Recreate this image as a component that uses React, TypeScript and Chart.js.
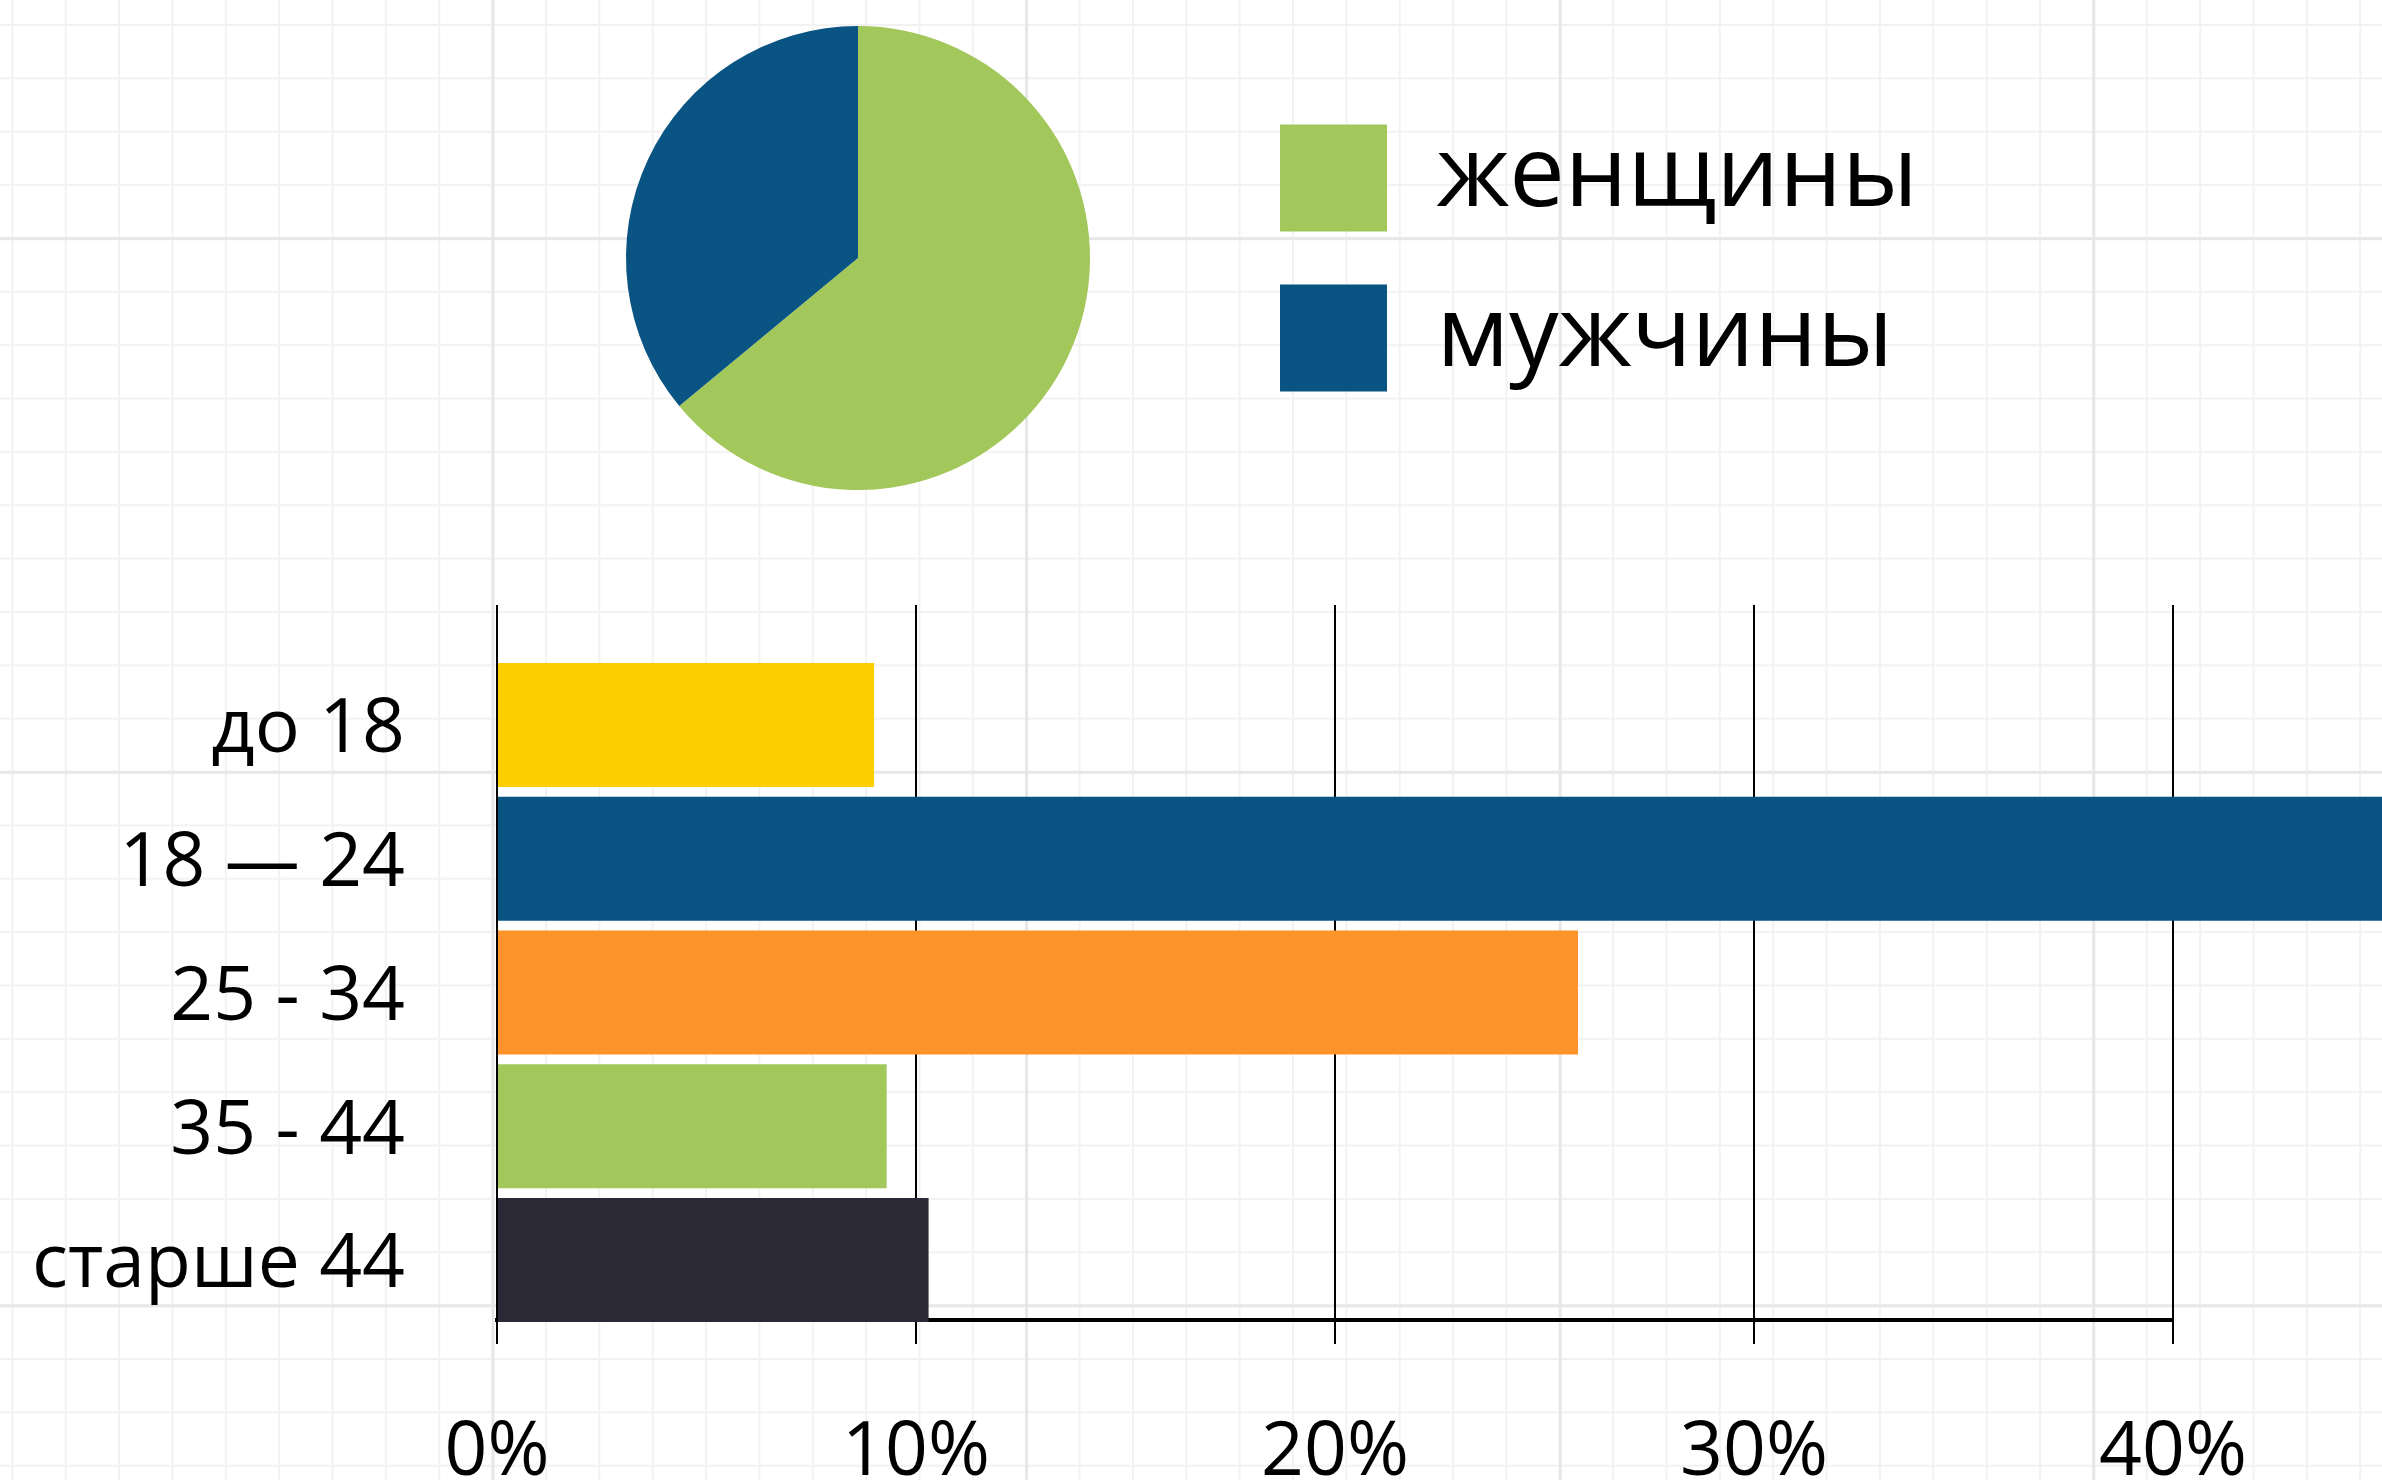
import React, { useEffect, useRef } from 'react';
import { Chart, registerables } from 'chart.js';

Chart.register(...registerables);

const FONT = '"Open Sans", sans-serif';

// Pie: gender split
const genderLabels = ['женщины', 'мужчины'];
const genderValues = [64, 36];
const genderColors = ['#A2C75A', '#095483'];

// Bars: age groups (%)
const ageLabels = ['до 18', '18 — 24', '25 - 34', '35 - 44', 'старше 44'];
const ageValues = [9.0, 45.6, 25.8, 9.3, 10.3];
const ageColors = ['#FDCE00', '#095483', '#FE922B', '#A2C75A', '#2C2937'];

// Percent axis ticks
const xTickValues = [0, 10, 20, 30, 40];
const xTickSuffix = '%';

const W = 2382;
const H = 1480;

export default function App() {
  const pieRef = useRef<HTMLCanvasElement>(null);
  const barRef = useRef<HTMLCanvasElement>(null);

  useEffect(() => {
    const legendFontSize = 99;
    const legendPad = 53;
    const legendBox = 107;
    const meas = document.createElement('canvas').getContext('2d')!;
    meas.font = `${legendFontSize}px ${FONT}`;
    const textW = Math.max(...genderLabels.map((l) => meas.measureText(l).width));
    const legendW = legendPad + legendBox + legendFontSize / 2 + textW + 10;
    const pieLeft = 489;
    const pieAreaRight = 1227;
    const pieRightPad = Math.max(0, W - pieAreaRight - legendW);

    const pie = new Chart(pieRef.current!, {
      type: 'pie',
      data: {
        labels: genderLabels,
        datasets: [
          {
            data: genderValues,
            backgroundColor: genderColors,
            borderWidth: 0,
          },
        ],
      },
      options: {
        responsive: false,
        animation: false,
        layout: { padding: { left: pieLeft, right: pieRightPad, top: 26, bottom: 30 } },
        plugins: {
          legend: {
            position: 'right',
            labels: {
              boxWidth: legendBox,
              boxHeight: legendBox,
              padding: legendPad,
              color: '#000',
              font: { family: FONT, size: legendFontSize },
            },
          },
          tooltip: { enabled: false },
        },
      },
    });

    const bar = new Chart(barRef.current!, {
      type: 'bar',
      data: {
        datasets: [
          {
            data: ageValues.map((v, i) => ({ x: v, y: i })),
            backgroundColor: ageColors,
            borderWidth: 0,
            barPercentage: 0.927,
            categoryPercentage: 1,
            clip: false,
          } as any,
        ],
      },
      options: {
        indexAxis: 'y',
        responsive: false,
        animation: false,
        layout: { padding: { top: 65, right: 209, left: 0, bottom: 0 } },
        scales: {
          x: {
            type: 'linear',
            position: 'bottom',
            min: 0,
            max: 40,
            offset: false,
            afterBuildTicks: (s: any) => {
              s.ticks = xTickValues.map((v) => ({ value: v }));
            },
            afterFit: (s: any) => {
              s.height = 160;
            },
            grid: { color: '#000', lineWidth: 2, tickLength: 24, drawTicks: true },
            border: { display: true, color: '#000', width: 4 },
            ticks: {
              color: '#000',
              padding: 72,
              maxRotation: 0,
              font: { family: FONT, size: 75, lineHeight: 1 },
              callback: (v: any) => v + xTickSuffix,
            },
          },
          y: {
            type: 'linear',
            reverse: true,
            offset: false,
            min: -0.897,
            max: 4.449,
            afterBuildTicks: (s: any) => {
              s.ticks = ageLabels.map((_, i) => ({ value: i }));
            },
            afterFit: (s: any) => {
              s.width = 497;
            },
            grid: {
              display: true,
              offset: false,
              drawOnChartArea: false,
              drawTicks: true,
              tickLength: 92,
              color: 'rgba(0,0,0,0)',
              tickColor: 'rgba(0,0,0,0)',
            },
            border: { display: false },
            ticks: {
              color: '#000',
              padding: 0,
              labelOffset: 6,
              autoSkip: false,
              font: { family: FONT, size: 75 },
              callback: (v: any) => ageLabels[v as number],
            },
          },
        },
        plugins: {
          legend: { display: false },
          tooltip: { enabled: false },
        },
      },
    });

    return () => {
      pie.destroy();
      bar.destroy();
    };
  }, []);

  const light = '#f2f2f2';
  const dark = '#e7e7e7';
  const bg = {
    backgroundColor: '#ffffff',
    backgroundImage: [
      `linear-gradient(to right, ${dark} 0, ${dark} 3px, transparent 3px)`,
      `linear-gradient(to bottom, ${dark} 0, ${dark} 3px, transparent 3px)`,
      `linear-gradient(to right, ${light} 0, ${light} 2px, transparent 2px)`,
      `linear-gradient(to bottom, ${light} 0, ${light} 2px, transparent 2px)`,
    ].join(','),
    backgroundSize: '533.6px 100%, 100% 533.6px, 53.36px 100%, 100% 53.36px',
    backgroundPosition: '491.5px 0px, 0px 237.2px, 11.4px 0px, 0px 24px',
  } as React.CSSProperties;

  return (
    <div
      style={{
        position: 'absolute',
        left: 0,
        top: 0,
        width: W,
        height: H,
        overflow: 'hidden',
        ...bg,
      }}
    >
      <canvas
        ref={pieRef}
        width={W}
        height={520}
        style={{ position: 'absolute', left: 0, top: 0, width: W, height: 520 }}
      />
      <canvas
        ref={barRef}
        width={W}
        height={940}
        style={{ position: 'absolute', left: 0, top: 540, width: W, height: 940 }}
      />
    </div>
  );
}
